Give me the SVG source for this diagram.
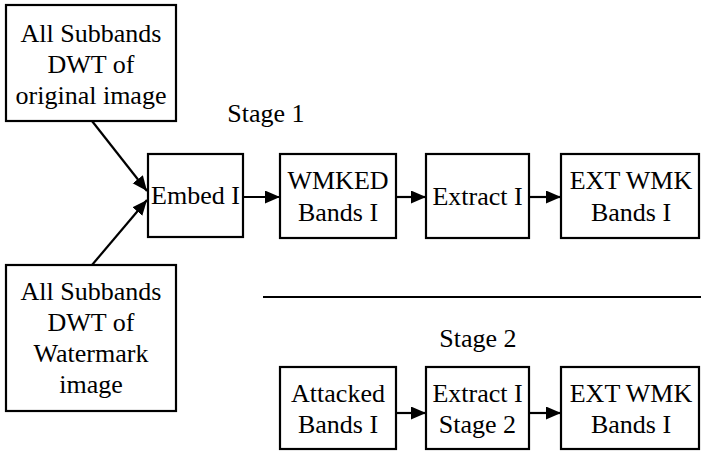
<svg xmlns="http://www.w3.org/2000/svg" width="701" height="451" viewBox="0 0 701 451">
<style>
.box{fill:#fff;stroke:#000;stroke-width:2.2}
.t{font-family:"Liberation Serif",Tinos,"Times New Roman",Times,"Noto Serif","DejaVu Serif",FreeSerif,serif;font-size:26px;fill:#000;text-anchor:middle}
.c{stroke:#000;stroke-width:2.2;fill:none}
</style>
<defs>
<marker id="ah" markerUnits="userSpaceOnUse" markerWidth="16" markerHeight="14" refX="15" refY="6.5" orient="auto">
<path d="M0,0 L15,6.5 L0,13 z" fill="#000"/>
</marker>
</defs>
<rect width="701" height="451" fill="#fff"/>
<g id="connectors">
<line class="c" x1="92" y1="121" x2="147" y2="191" marker-end="url(#ah)"/>
<line class="c" x1="92" y1="265" x2="147" y2="200" marker-end="url(#ah)"/>
<line class="c" x1="243" y1="197" x2="280" y2="197" marker-end="url(#ah)"/>
<line class="c" x1="396" y1="197" x2="426" y2="197" marker-end="url(#ah)"/>
<line class="c" x1="529" y1="197" x2="561" y2="197" marker-end="url(#ah)"/>
<line class="c" x1="396" y1="413" x2="426" y2="413" marker-end="url(#ah)"/>
<line class="c" x1="529" y1="413" x2="561" y2="413" marker-end="url(#ah)"/>
<line class="c" x1="263" y1="297" x2="701" y2="297"/>
</g>
<g id="orig">
<rect class="box" x="6" y="5" width="170" height="116"/>
<text class="t" x="91" y="42">All Subbands</text>
<text class="t" x="91" y="73">DWT of</text>
<text class="t" x="91" y="104">original image</text>
</g>
<g id="wm">
<rect class="box" x="6" y="265" width="170" height="146"/>
<text class="t" x="91" y="300">All Subbands</text>
<text class="t" x="91" y="331">DWT of</text>
<text class="t" x="91" y="362">Watermark</text>
<text class="t" x="91" y="393">image</text>
</g>
<g id="stage1"><text class="t" x="266" y="122">Stage 1</text></g>
<g id="stage2"><text class="t" x="478" y="347">Stage 2</text></g>
<g id="embed">
<rect class="box" x="148" y="154" width="95" height="83"/>
<text class="t" x="195.5" y="204">Embed I</text>
</g>
<g id="wmked">
<rect class="box" x="280" y="154" width="116" height="84"/>
<text class="t" x="338" y="189">WMKED</text>
<text class="t" x="338" y="221">Bands I</text>
</g>
<g id="extract1">
<rect class="box" x="426" y="154" width="103" height="84"/>
<text class="t" x="477.5" y="205">Extract I</text>
</g>
<g id="ext1">
<rect class="box" x="561" y="154" width="138" height="84"/>
<text class="t" x="631" y="189">EXT WMK</text>
<text class="t" x="631" y="221">Bands I</text>
</g>
<g id="attacked">
<rect class="box" x="280" y="367" width="116" height="82"/>
<text class="t" x="338" y="402">Attacked</text>
<text class="t" x="338" y="433">Bands I</text>
</g>
<g id="extract2">
<rect class="box" x="426" y="367" width="103" height="82"/>
<text class="t" x="477.5" y="402">Extract I</text>
<text class="t" x="477.5" y="433">Stage 2</text>
</g>
<g id="ext2">
<rect class="box" x="561" y="367" width="138" height="82"/>
<text class="t" x="631" y="402">EXT WMK</text>
<text class="t" x="631" y="433">Bands I</text>
</g>
</svg>
